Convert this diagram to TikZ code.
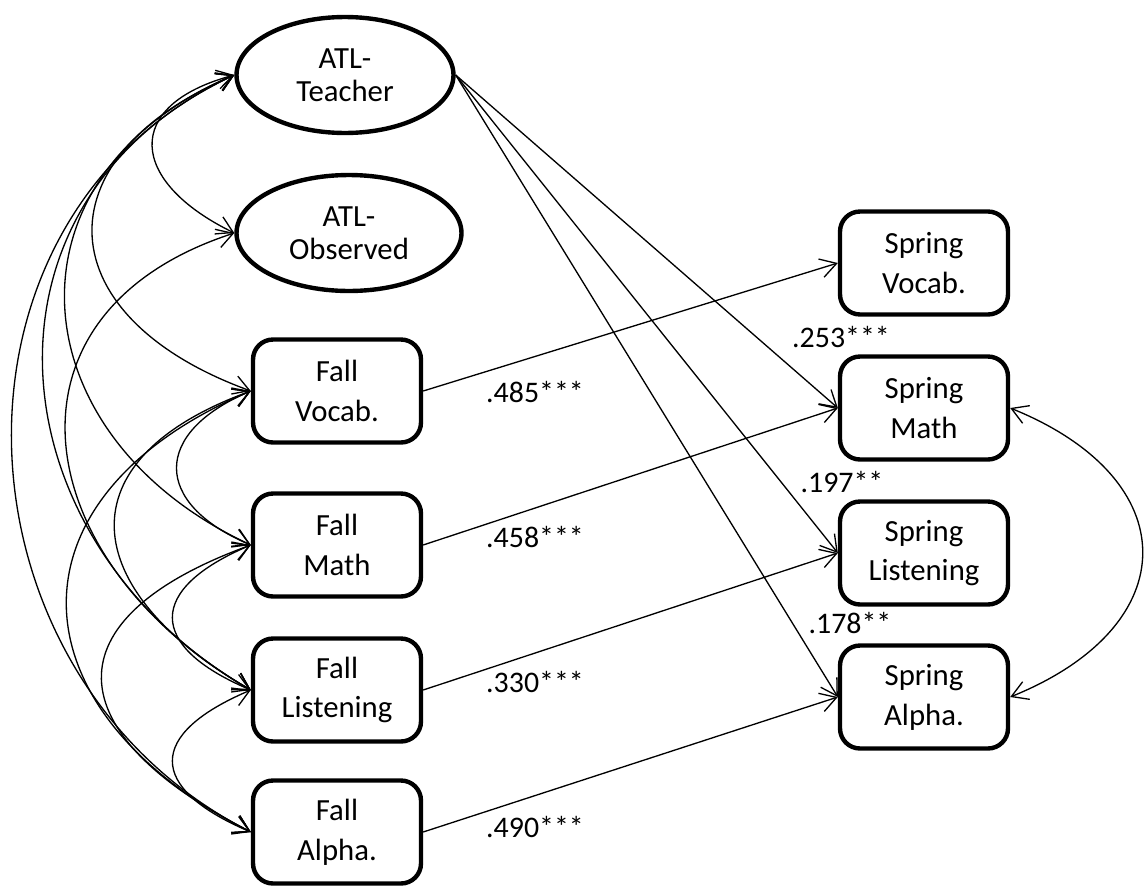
\documentclass[tikz,border=0pt]{standalone}
\usepackage{fontspec}
\setmainfont{Carlito}
\usetikzlibrary{arrows.meta,shapes.geometric}
\begin{document}
\begin{tikzpicture}[x=0.02cm,y=0.02cm,
  latent/.style={ellipse,draw,line width=2.5pt,minimum height=2.32cm,inner sep=0pt,align=center,font=\fontsize{17.5}{18.5}\selectfont},
  obs/.style={rectangle,rounded corners=0.4cm,draw,line width=2.5pt,minimum width=3.36cm,minimum height=2.06cm,inner sep=0pt,align=center,font=\fontsize{17.5}{22.7}\selectfont},
  reg/.style={line width=0.75pt,-{Straight Barb[length=0.32cm,width=0.38cm]}},
  cov/.style={line width=0.75pt,{Straight Barb[length=0.32cm,width=0.38cm]}-{Straight Barb[length=0.32cm,width=0.38cm]}},
  coef/.style={font=\fontsize{17}{19}\selectfont,inner sep=0pt}
]
\useasboundingbox (0,0) rectangle (1145,-886);
% latent
\node[latent,minimum width=4.34cm] (T) at (345,-75) {ATL-\\Teacher};
\node[latent,minimum width=4.5cm] (O) at (349,-233) {ATL-\\Observed};
% fall
\node[obs] (FV) at (337,-391) {Fall\\Vocab.};
\node[obs] (FM) at (337,-545) {Fall\\Math};
\node[obs] (FL) at (337,-690) {Fall\\Listening};
\node[obs] (FA) at (337,-832) {Fall\\Alpha.};
% spring
\node[obs] (SV) at (924,-263) {Spring\\Vocab.};
\node[obs] (SM) at (924,-408) {Spring\\Math};
\node[obs] (SL) at (924,-553) {Spring\\Listening};
\node[obs] (SA) at (924,-697) {Spring\\Alpha.};
% regressions
\draw[reg] (FV.east) -- (SV.west);
\draw[reg] (FM.east) -- (SM.west);
\draw[reg] (FL.east) -- (SL.west);
\draw[reg] (FA.east) -- (SA.west);
\draw[reg] (T.east) -- (SM.west);
\draw[reg] (T.east) -- (SL.west);
\draw[reg] (T.east) -- (SA.west);
% covariances
\draw[cov] (T.west) .. controls +(195:117) and +(154:117) .. (O.west);
\draw[cov] (T.west) .. controls +(203:215) and +(160:215) .. (FV.west);
\draw[cov] (T.west) .. controls +(203:259) and +(155:259) .. (FM.west);
\draw[cov] (T.west) .. controls +(205:300) and +(150:300) .. (FL.west);
\draw[cov] (T.west) .. controls +(205:342) and +(153:342) .. (FA.west);
\draw[cov] (O.west) .. controls +(198:259) and +(150:259) .. (FL.west);
\draw[cov] (FV.west) .. controls +(203:107) and +(157:107) .. (FM.west);
\draw[cov] (FM.west) .. controls +(203:113) and +(157:113) .. (FL.west);
\draw[cov] (FL.west) .. controls +(203:113) and +(157:113) .. (FA.west);
\draw[cov] (FV.west) .. controls +(200:201) and +(150:201) .. (FL.west);
\draw[cov] (FV.west) .. controls +(203:271) and +(153:271) .. (FA.west);
\draw[cov] (FM.west) .. controls +(200:217) and +(153:217) .. (FA.west);
\draw[cov] (SM.east) .. controls +(-22:190) and +(22:190) .. (SA.east);
% coefficients
\node[coef] (c1) at (535,-392) {.485***};
\node[coef] (c2) at (535,-537) {.458***};
\node[coef] (c3) at (535,-682) {.330***};
\node[coef] (c4) at (535,-827) {.490***};
\node[coef] (c5) at (841,-337) {.253***};
\node[coef] (c6) at (842,-482) {.197**};
\node[coef] (c7) at (850,-623) {.178**};
\end{tikzpicture}
\end{document}
